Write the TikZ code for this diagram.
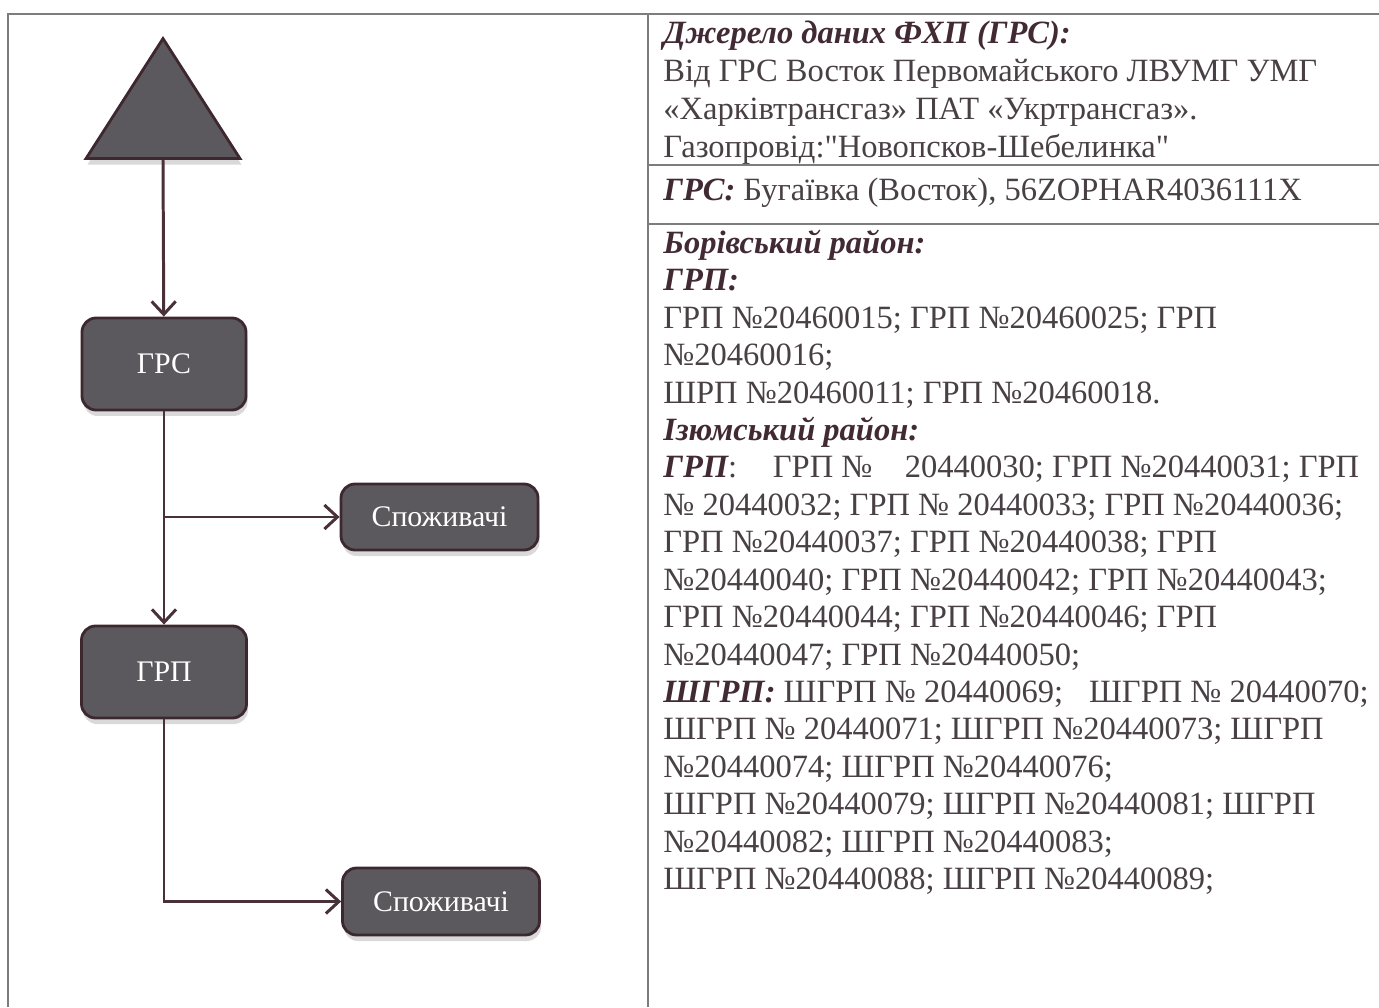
\documentclass[tikz,border=0pt]{standalone}
\usepackage{fontspec}
\setmainfont{Liberation Serif}
\newfontfamily\tabfont{Liberation Serif}
\usetikzlibrary{arrows.meta, positioning, shapes.geometric, shadows}

\definecolor{boxfill}{RGB}{92,89,94}
\definecolor{boxedge}{RGB}{62,40,48}
\definecolor{pipe}{RGB}{74,48,56}
\definecolor{txt}{RGB}{72,64,68}
\definecolor{head}{RGB}{66,42,52}
\definecolor{rulegray}{RGB}{125,125,125}

\newcommand{\hd}[1]{{\bfseries\itshape\color{head}#1}}

\tikzset{
  unit/.style = {draw=boxedge, line width=1.6pt, fill=boxfill, rounded corners=8pt,
    text=white, font=\fontsize{17}{20}\selectfont,
    drop shadow={shadow xshift=0.3mm, shadow yshift=-1.2mm, opacity=0.3}},
  info/.style = {anchor=north west, inner sep=0pt, align=left, text=txt,
    font=\tabfont\fontsize{18.5}{21.3}\selectfont},
  pipeline/.style = {draw=pipe, line width=1.7pt,
    -{Straight Barb[length=2.6mm, width=4.8mm]}}
}

\begin{document}
\begin{tikzpicture}[node distance = 2cm, on grid]

\useasboundingbox (0,0) rectangle (27.58,20.14);

% table frame
\draw [rulegray, line width=0.8pt] (0.16,0) -- (0.16,19.86) -- (27.58,19.86);
\draw [rulegray, line width=0.8pt] (12.96,0) -- (12.96,19.86);
\draw [rulegray, line width=0.8pt] (12.96,16.84) -- (27.58,16.84);
\draw [rulegray, line width=0.8pt] (12.96,15.66) -- (27.58,15.66);

% scheme
\node (src) [isosceles triangle, isosceles triangle stretches, shape border rotate=90,
  anchor=lower side, minimum width=3.08cm, minimum height=2.4cm, inner sep=0pt,
  draw=boxedge, line width=1.6pt, fill=boxfill,
  drop shadow={shadow xshift=0.3mm, shadow yshift=-1.2mm, opacity=0.3}] at (3.26,16.94) {};

\node (grs) [unit, minimum width=3.28cm, minimum height=1.84cm] at (3.28,12.86) {ГРС};
\node (cons1) [unit, minimum width=3.94cm, minimum height=1.32cm,
  below right = 3.06cm and 5.51cm of grs] {Споживачі};
\node (grp) [unit, minimum width=3.3cm, minimum height=1.84cm, below = 6.16cm of grs] {ГРП};
\node (cons2) [unit, minimum width=3.94cm, minimum height=1.34cm,
  below right = 4.59cm and 5.54cm of grp] {Споживачі};

\draw [pipeline] (src.lower side) -- (grs);
\draw [pipeline] (grs) -- (grp);
\draw [pipeline] (grs.south |- cons1.west) -- (cons1);
\draw [pipeline] (grp.south) |- (cons2.west);

% text column
\node (source) [info, font=\tabfont\fontsize{18.5}{21.6}\selectfont] at (13.26,19.72) {\hd{Джерело даних ФХП (ГРС):}\\
Від ГРС Восток Первомайського ЛВУМГ УМГ\\
«Харківтрансгаз» ПАТ «Укртрансгаз».\\
Газопровід:"Новопсков-Шебелинка"};

\node (station) [info] at (13.26,16.58) {\hd{ГРС:} Бугаївка (Восток), 56ZOPHAR4036111X};

\node (points) [info] at (13.26,15.55) {\hd{Борівський район:}\\
\hd{ГРП:}\\
ГРП №20460015; ГРП №20460025; ГРП\\
№20460016;\\
ШРП №20460011; ГРП №20460018.\\
\hd{Ізюмський район:}\\
\hd{ГРП}:\hspace{1.1em}ГРП №\hspace{1em}20440030; ГРП №20440031; ГРП\\
№ 20440032; ГРП № 20440033; ГРП №20440036;\\
ГРП №20440037; ГРП №20440038; ГРП\\
№20440040; ГРП №20440042; ГРП №20440043;\\
ГРП №20440044; ГРП №20440046; ГРП\\
№20440047; ГРП №20440050;\\
\hd{ШГРП:} ШГРП № 20440069;\hspace{0.8em}ШГРП № 20440070;\\
ШГРП № 20440071; ШГРП №20440073; ШГРП\\
№20440074; ШГРП №20440076;\\
ШГРП №20440079; ШГРП №20440081; ШГРП\\
№20440082; ШГРП №20440083;\\
ШГРП №20440088; ШГРП №20440089;};

\end{tikzpicture}
\end{document}
